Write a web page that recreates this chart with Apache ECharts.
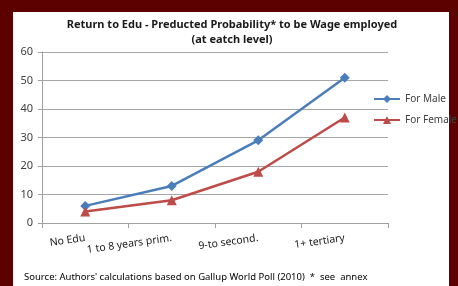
<!DOCTYPE html>
<html>
<head>
<meta charset="utf-8">
<script src="https://cdn.jsdelivr.net/npm/echarts@6/dist/echarts.min.js"></script>
<style>
  html, body { margin: 0; padding: 0; background: #fff; }
  #main { width: 458px; height: 286px; }
</style>
</head>
<body>
<div id="main"></div>
<script>
// chart data
const categories = ['No Edu', '1 to 8 years prim.', '9-to second.', '1+ tertiary'];
const maleValues = [6, 13, 29, 51];
const femaleValues = [4, 8, 18, 37];
const yTicks = { min: 0, max: 60, interval: 10 };

const font = 'Noto Sans';
const frame = '#5c0000';

const myChart = echarts.init(document.getElementById('main'));

myChart.setOption({
  backgroundColor: '#fff',
  animation: false,
  title: {
    text: 'Return to Edu - Preducted Probability* to be Wage employed\n(at eatch level)',
    left: 227,
    top: 12,
    textAlign: 'center',
    textStyle: { fontFamily: font, fontSize: 11, fontWeight: 'bold', color: '#1a1a1a', lineHeight: 15 }
  },
  legend: {
    orient: 'vertical',
    left: 368,
    top: 89,
    itemWidth: 26,
    itemHeight: 10,
    itemGap: 11,
    textStyle: { fontFamily: font, fontSize: 10, color: '#404040' },
    data: ['For Male', 'For Female']
  },
  grid: { left: 42, right: 70, top: 52, bottom: 63 },
  xAxis: {
    type: 'category',
    data: categories,
    boundaryGap: true,
    axisLine: { lineStyle: { color: '#a0a0a0' } },
    axisTick: { show: true, length: 5, lineStyle: { color: '#a0a0a0' } },
    axisLabel: { interval: 0, rotate: 8, margin: 15, fontFamily: font, fontSize: 10.5, color: '#1a1a1a' }
  },
  yAxis: {
    type: 'value',
    min: yTicks.min,
    max: yTicks.max,
    interval: yTicks.interval,
    axisLine: { show: true, lineStyle: { color: '#a0a0a0' } },
    axisTick: { show: true, length: 4, lineStyle: { color: '#a0a0a0' } },
    axisLabel: { margin: 9, fontFamily: font, fontSize: 11, color: '#404040' },
    splitLine: { lineStyle: { color: '#a6a6a6' } }
  },
  series: [
    {
      name: 'For Male',
      type: 'line',
      data: maleValues,
      symbol: 'diamond',
      symbolSize: 10,
      lineStyle: { color: '#4a7ebb', width: 2.5 },
      itemStyle: { color: '#4a7ebb' }
    },
    {
      name: 'For Female',
      type: 'line',
      data: femaleValues,
      symbol: 'triangle',
      symbolSize: 10,
      lineStyle: { color: '#be4b48', width: 2.5 },
      itemStyle: { color: '#be4b48' }
    }
  ],
  graphic: [
    {
      type: 'text',
      left: 24,
      top: 272,
      style: {
        text: "Source: Authors' calculations based on Gallup World Poll (2010)  *  see  annex",
        fontFamily: font, fontSize: 9.5, fill: '#000'
      }
    },
    { type: 'rect', left: 0, top: 0, shape: { width: 458, height: 12 }, style: { fill: frame } },
    { type: 'rect', left: 0, top: 0, shape: { width: 13, height: 286 }, style: { fill: frame } },
    { type: 'rect', left: 449, top: 0, shape: { width: 9, height: 286 }, style: { fill: frame } }
  ]
});
</script>
</body>
</html>
